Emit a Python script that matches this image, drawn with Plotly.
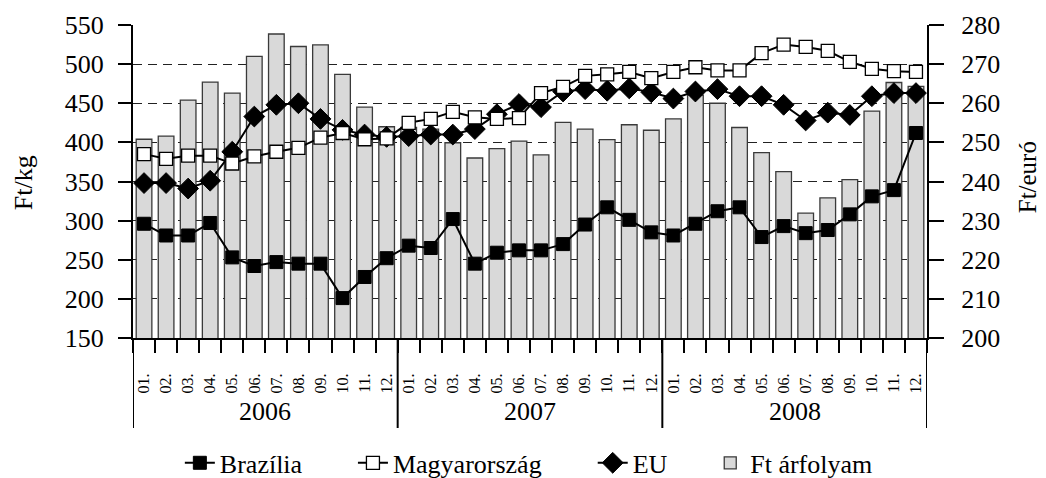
import plotly.graph_objects as go

years = ["2006", "2007", "2008"]
months = ["01.", "02.", "03.", "04.", "05.", "06.", "07.", "08.", "09.", "10.", "11.", "12."]

brazilia = [296, 281, 281, 297, 253, 242, 247, 245, 245, 201, 228, 252,
            268, 265, 302, 245, 259, 262, 262, 270, 295, 317, 301, 285,
            281, 296, 312, 317, 279, 293, 284, 288, 308, 331, 339, 412]
magyarorszag = [385, 379, 383, 383, 373, 382, 388, 393, 406, 412, 404, 405,
                425, 430, 439, 432, 430, 431, 463, 471, 485, 487, 490, 482,
                490, 496, 492, 492, 514, 525, 522, 517, 503, 494, 491, 490]
eu = [348, 348, 341, 351, 388, 433, 448, 450, 430, 416, 410, 407,
      408, 410, 410, 417, 436, 449, 445, 465, 468, 466, 469, 464,
      456, 465, 468, 459, 459, 448, 428, 438, 435, 459, 463, 463]
ft_arfolyam = [250.8, 251.6, 260.8, 265.4, 262.6, 272.0, 277.7, 274.5, 274.9, 267.4, 259.0, 254.0,
               253.8, 253.4, 249.9, 246.0, 248.4, 250.3, 246.8, 255.1, 253.4, 250.7, 254.5, 253.1,
               256.0, 262.1, 260.0, 253.8, 247.4, 242.5, 231.9, 235.8, 240.5, 258.0, 265.3, 264.3]

# unique category keys (year + month); ticks show only the month text
categories = [f"{y} {m}" for y in years for m in months]
tick_text = [m for _ in years for m in months]

FONT = "Liberation Serif"
n_m = len(months)

fig = go.Figure()
fig.add_trace(go.Bar(
    x=categories, y=ft_arfolyam, name="Ft árfolyam", yaxis="y", legend="legend4",
    marker=dict(color="#d9d9d9", line=dict(color="#3a3a3a", width=1.3)),
))
fig.add_trace(go.Scatter(
    x=categories, y=brazilia, name="Brazília", yaxis="y2", mode="lines+markers", legend="legend",
    line=dict(color="black", width=2),
    marker=dict(symbol="square", size=13, color="black", line=dict(color="black", width=1)),
))
fig.add_trace(go.Scatter(
    x=categories, y=eu, name="EU", yaxis="y2", mode="lines+markers", legend="legend3",
    line=dict(color="black", width=2),
    marker=dict(symbol="diamond", size=16, color="black", line=dict(color="black", width=1)),
))
fig.add_trace(go.Scatter(
    x=categories, y=magyarorszag, name="Magyarország", yaxis="y2", mode="lines+markers", legend="legend2",
    line=dict(color="black", width=2),
    marker=dict(symbol="square", size=13, color="white", line=dict(color="black", width=1.3)),
))

# year group labels and dividers
annotations = []
shapes = []
for i, yr in enumerate(years):
    annotations.append(dict(
        x=i * n_m + (n_m - 1) / 2, xref="x", y=-0.236, yref="paper",
        text=yr, showarrow=False, yanchor="middle", xanchor="center",
        font=dict(size=26, family=FONT, color="black"),
    ))
for i in range(len(years) + 1):
    shapes.append(dict(
        type="line", xref="x", yref="paper", x0=i * n_m - 0.5, x1=i * n_m - 0.5,
        y0=0, y1=-0.2875, line=dict(color="black", width=2),
    ))

annotations.append(dict(
    x=-0.1375, xref="paper", y=0.497, yref="paper", text="Ft/kg", textangle=-90,
    showarrow=False, xanchor="center", yanchor="middle",
    font=dict(size=26, family=FONT, color="black"),
))
annotations.append(dict(
    x=1.127, xref="paper", y=0.513, yref="paper", text="Ft/euró", textangle=-90,
    showarrow=False, xanchor="center", yanchor="middle",
    font=dict(size=25, family=FONT, color="black"),
))

leg_common = dict(orientation="h", yanchor="middle", y=-0.399, xanchor="left",
                  font=dict(size=26, family=FONT, color="black"), bgcolor="rgba(0,0,0,0)")

# page body adds an 8px offset, so the figure is 8px smaller than the window
fig.update_layout(
    width=1038, height=470,
    margin=dict(l=125, r=119, t=17, b=140, autoexpand=False),
    paper_bgcolor="white", plot_bgcolor="white",
    font=dict(family=FONT, color="black", size=24),
    bargap=0.29,
    showlegend=True,
    legend=dict(x=0.059, **leg_common),
    legend2=dict(x=0.277, **leg_common),
    legend3=dict(x=0.579, **leg_common),
    legend4=dict(x=0.727, **leg_common),
    annotations=annotations,
    shapes=shapes,
    xaxis=dict(
        type="category", range=[-0.5, len(categories) - 0.5],
        tickmode="array", tickvals=categories, ticktext=tick_text,
        tickson="boundaries",
        showline=True, linecolor="black", linewidth=2,
        ticks="outside", ticklen=13, tickwidth=2, tickcolor="black",
        tickangle=-90, tickfont=dict(size=16, family=FONT), ticklabelstandoff=27,
        showgrid=False, zeroline=False, automargin=False,
    ),
    yaxis=dict(
        side="right", range=[200, 280], dtick=10,
        showline=True, linecolor="black", linewidth=2,
        ticks="outside", ticklen=15, tickwidth=2, tickcolor="black",
        tickfont=dict(size=26, family=FONT), ticklabelstandoff=12,
        showgrid=True, gridcolor="#222222", gridwidth=1.2, griddash="9px,6px",
        zeroline=False, automargin=False,
    ),
    yaxis2=dict(
        side="left", overlaying="y", range=[150, 550], dtick=50,
        showline=True, linecolor="black", linewidth=2,
        ticks="outside", ticklen=13, tickwidth=2, tickcolor="black",
        tickfont=dict(size=26, family=FONT), ticklabelstandoff=9,
        showgrid=False, zeroline=False, automargin=False,
    ),
)

fig.write_html("out.html")
